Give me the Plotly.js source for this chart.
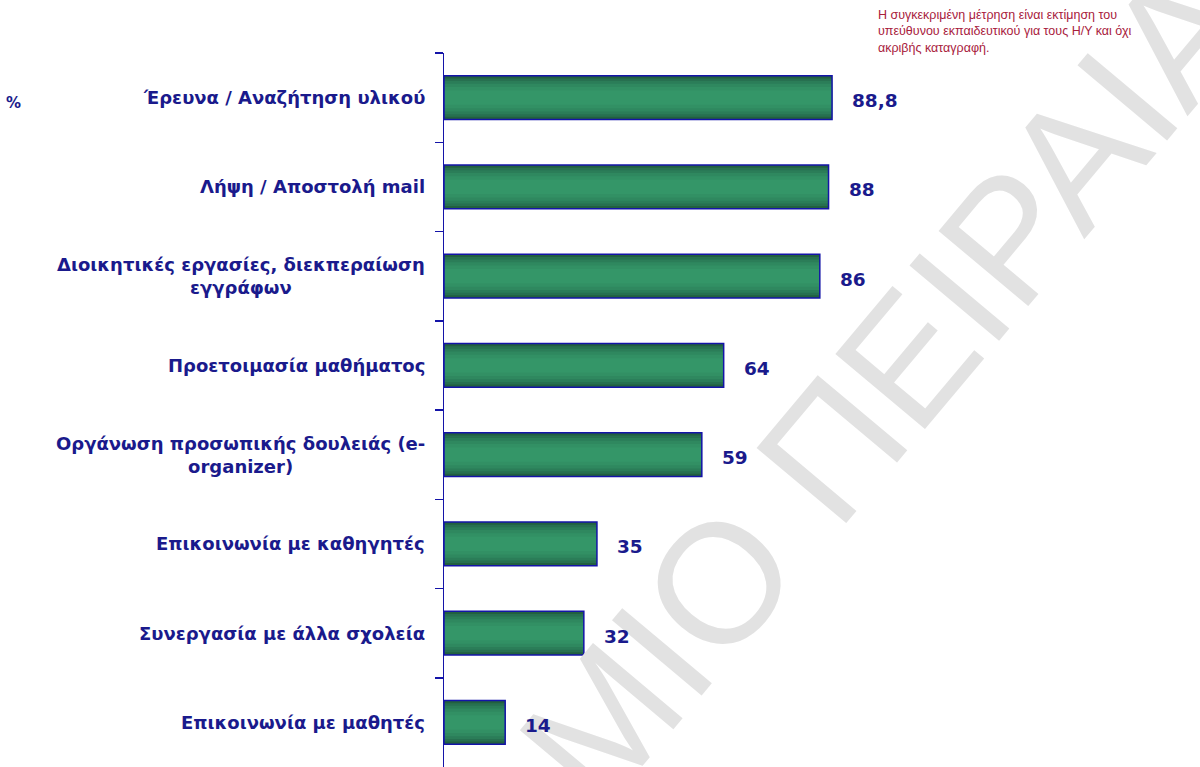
<!DOCTYPE html>
<html><head><meta charset="utf-8">
<script src="https://cdn.plot.ly/plotly-3.0.1.min.js"></script>
<style>html,body{margin:0;padding:0;background:#fff;overflow:hidden}</style>
</head><body><div id="chart" style="width:1200px;height:767px"></div>
<script>
const categories = [
  "Έρευνα / Αναζήτηση υλικού",
  "Λήψη / Αποστολή mail",
  "Διοικητικές εργασίες, διεκπεραίωση<br>εγγράφων",
  "Προετοιμασία μαθήματος",
  "Οργάνωση προσωπικής δουλειάς (e-<br>organizer)",
  "Επικοινωνία με καθηγητές",
  "Συνεργασία με άλλα σχολεία",
  "Επικοινωνία με μαθητές"
];
const values = [88.8, 88, 86, 64, 59, 35, 32, 14];
const valueLabels = ["88,8", "88", "86", "64", "59", "35", "32", "14"];
const noteText = "Η συγκεκριμένη μέτρηση είναι εκτίμηση του<br>υπεύθυνου εκπαιδευτικού για τους Η/Υ και όχι<br>ακριβής καταγραφή.";
const unitText = "%";
const watermarkText = "ΜΙΟ ΠΕΙΡΑΙΑ";

const W = 1200, H = 767;
const M = {l: 444, r: 319, t: 53, b: 0};
const pw = W - M.l - M.r, ph = H - M.t - M.b;
const px2x = p => (p - M.l) / pw;
const py2y = p => (H - M.b - p) / ph;

const navy = "#1a1a8c";
const ycats = categories.map((c, i) => "c" + i);

const layers = [
  {w: 0.49, c: "#22603f"},
  {w: 0.43, c: "#277050"},
  {w: 0.37, c: "#2b7d58"},
  {w: 0.31, c: "#2f885f"},
  {w: 0.24, c: "#329064"},
  {w: 0.16, c: "#349668"}
];
const traces = layers.map(l => ({
  type: "bar", orientation: "h", x: values, y: ycats,
  width: l.w, marker: {color: l.c, line: {width: 0}},
  hoverinfo: "skip", showlegend: false
}));
traces.push({
  type: "bar", orientation: "h", x: values, y: ycats, width: 0.49,
  marker: {color: "rgba(0,0,0,0)", line: {color: "#1414a8", width: 1.5}},
  hoverinfo: "skip", showlegend: false
});

const annotations = [];
annotations.push({
  xref: "paper", yref: "paper", x: px2x(885), y: py2y(385),
  xanchor: "center", yanchor: "middle",
  text: watermarkText, showarrow: false, textangle: -50,
  font: {family: "Liberation Sans", size: 170, color: "#e2e2e2"}
});
categories.forEach((c, i) => {
  annotations.push({
    xref: "paper", yref: "y", x: px2x(427), y: ycats[i], xanchor: "right",
    text: c, align: "center", showarrow: false,
    font: {family: "DejaVu Sans", size: 18, color: navy, weight: "bold"}
  });
  annotations.push({
    xref: "x", yref: "y", x: values[i], y: ycats[i], xanchor: "left",
    xshift: 18, yshift: -3, text: valueLabels[i], showarrow: false,
    font: {family: "DejaVu Sans", size: 18.5, color: navy, weight: "bold"}
  });
});
annotations.push({
  xref: "paper", yref: "paper", x: px2x(23), y: py2y(92), xanchor: "right",
  text: unitText, showarrow: false,
  font: {family: "DejaVu Sans", size: 15, color: navy, weight: "bold"}
});
annotations.push({
  xref: "paper", yref: "paper", x: px2x(876), y: py2y(6), xanchor: "left", yanchor: "top",
  text: noteText, align: "left", showarrow: false,
  font: {family: "Liberation Sans", size: 12.5, color: "#a8203c"}
});

const layout = {
  width: W, height: H,
  margin: M,
  paper_bgcolor: "#fff", plot_bgcolor: "rgba(0,0,0,0)",
  barmode: "overlay",
  xaxis: {range: [0, 100], showgrid: false, zeroline: false, showticklabels: false, showline: false, ticks: ""},
  yaxis: {type: "category", categoryorder: "array", categoryarray: ycats, range: [7.5, -0.5],
          showgrid: false, zeroline: false, showticklabels: false, showline: true,
          linecolor: "#1414a8", linewidth: 1.5, ticks: "outside", tickson: "boundaries",
          ticklen: 8, tickcolor: "#1414a8", tickwidth: 1.5},
  annotations: annotations
};
Plotly.newPlot("chart", traces, layout, {staticPlot: true, displayModeBar: false});
</script>
</body></html>
